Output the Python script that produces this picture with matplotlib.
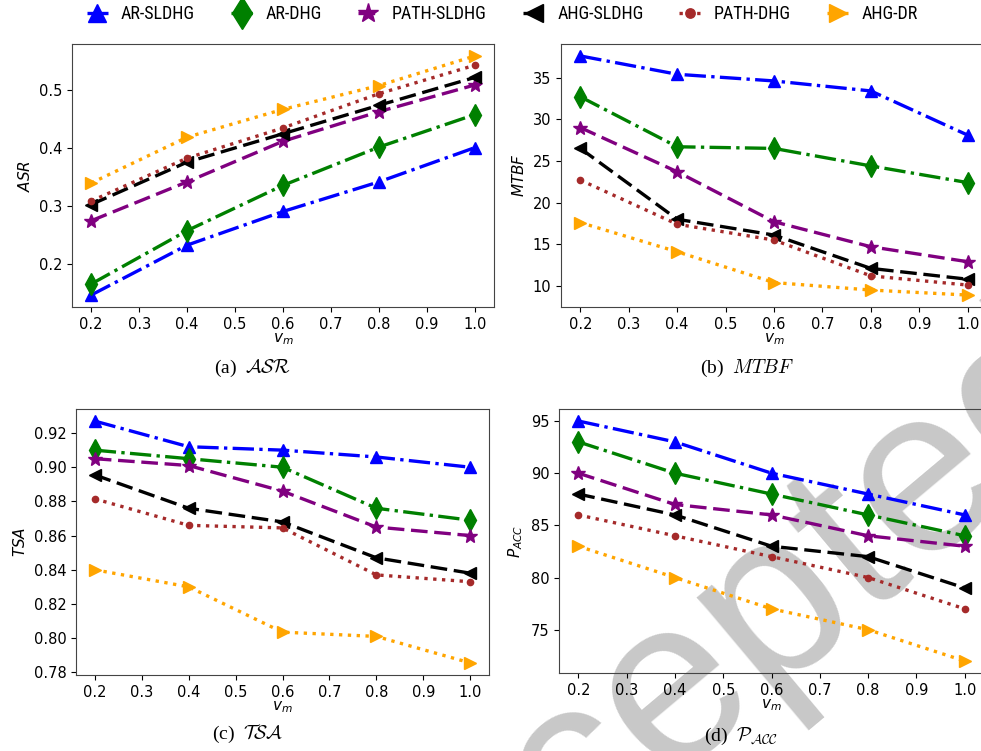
import matplotlib
matplotlib.use("Agg")
import matplotlib.pyplot as plt
from matplotlib import font_manager
from matplotlib.lines import Line2D

# x values
v_m = [0.2, 0.4, 0.6, 0.8, 1.0]
methods = ["AR-SLDHG", "AR-DHG", "PATH-SLDHG", "AHG-SLDHG", "PATH-DHG", "AHG-DR"]

# one row per method, same order as methods
asr = [
    [0.146, 0.232, 0.290, 0.341, 0.400],
    [0.165, 0.257, 0.335, 0.401, 0.457],
    [0.274, 0.341, 0.411, 0.462, 0.508],
    [0.302, 0.375, 0.424, 0.473, 0.521],
    [0.308, 0.382, 0.434, 0.493, 0.542],
    [0.339, 0.418, 0.466, 0.507, 0.558],
]
mtbf = [
    [37.6, 35.4, 34.6, 33.4, 28.1],
    [32.7, 26.7, 26.5, 24.4, 22.4],
    [29.0, 23.7, 17.7, 14.7, 12.9],
    [26.5, 18.0, 16.1, 12.1, 10.8],
    [22.7, 17.4, 15.5, 11.2, 10.1],
    [17.6, 14.1, 10.4, 9.5, 8.9],
]
tsa = [
    [0.927, 0.912, 0.910, 0.906, 0.900],
    [0.910, 0.905, 0.900, 0.876, 0.869],
    [0.905, 0.901, 0.886, 0.865, 0.860],
    [0.8955, 0.876, 0.868, 0.847, 0.838],
    [0.8815, 0.866, 0.8645, 0.837, 0.833],
    [0.840, 0.830, 0.8035, 0.801, 0.7855],
]
pacc = [
    [95, 93, 90, 88, 86],
    [93, 90, 88, 86, 84],
    [90, 87, 86, 84, 83],
    [88, 86, 83, 82, 79],
    [86, 84, 82, 80, 77],
    [83, 80, 77, 75, 72],
]

colors = ["blue", "green", "purple", "black", "brown", "orange"]
markers = ["^", "d", "*", "<", "o", ">"]
styles = ["-.", "-.", (0, (5.0, 2.0)), (0, (5.0, 2.0)), ":", ":"]
msizes = [9, 11, 10, 9, 4.5, 9]

# pick a narrow sans for the legend if one is installed
installed = {f.name for f in font_manager.fontManager.ttflist}
legend_font = "DejaVu Sans"
for name in ["Roboto Condensed", "Liberation Sans Narrow", "DejaVu Sans Condensed",
             "Open Sans Condensed", "Noto Sans Condensed"]:
    if name in installed:
        legend_font = name
        break

W, H = 981, 751
fig = plt.figure(figsize=(W / 100, H / 100), dpi=100)

# watermark behind everything
fig.text(702 / W, 1 - 676 / H, "Accepted", fontsize=170, rotation=40,
         color="#c8c8c8", ha="center", va="center", family="Liberation Sans",
         zorder=-1)

def box(left, right, top, bottom):
    return [left / W, 1 - bottom / H, (right - left) / W, (bottom - top) / H]

panels = [
    (box(72, 494, 44, 307), asr, "$ASR$", (252, 368), r"(a)  $\mathcal{ASR}$"),
    (box(561, 987, 44, 307), mtbf, "$MTBF$", (747, 368), r"(b)  $MTBF$"),
    (box(76, 489, 409, 675), tsa, "$TSA$", (248, 734), r"(c)  $\mathcal{TSA}$"),
    (box(559, 984, 409, 673), pacc, "$P_{ACC}$", (741, 736), r"(d)  $\mathcal{P}_{\mathcal{ACC}}$"),
]

for pos, data, ylab, cap_xy, cap in panels:
    ax = fig.add_axes(pos)
    ax.patch.set_alpha(0)
    for i in range(len(methods)):
        ax.plot(v_m, data[i], color=colors[i], marker=markers[i], linestyle=styles[i],
                linewidth=2.4, markersize=msizes[i])
    ax.set_xticks([0.2, 0.3, 0.4, 0.5, 0.6, 0.7, 0.8, 0.9, 1.0])
    ax.tick_params(labelsize=10.5)
    ax.set_xlabel("$v_m$", fontsize=11, labelpad=0)
    ax.set_ylabel(ylab, fontsize=11)
    for s in ax.spines.values():
        s.set_color("#444444")
    fig.text(cap_xy[0] / W, 1 - cap_xy[1] / H, cap, ha="center", va="center",
             fontsize=14, family="Liberation Serif", math_fontfamily="cm")

handles = [Line2D([], [], color=colors[i], marker=markers[i], linestyle=styles[i],
                  linewidth=2.4, markersize=msizes[i] * 1.5)
           for i in range(len(methods))]
leg_size = 13 if legend_font != "DejaVu Sans" else 11
fig.legend(handles, methods, loc="center", bbox_to_anchor=(502 / W, 1 - 14 / H),
           ncol=6, frameon=False, handlelength=1.2, handletextpad=0.7,
           columnspacing=2.0, borderpad=0,
           prop={"family": legend_font, "size": leg_size})

fig.savefig("out.png", dpi=100)
